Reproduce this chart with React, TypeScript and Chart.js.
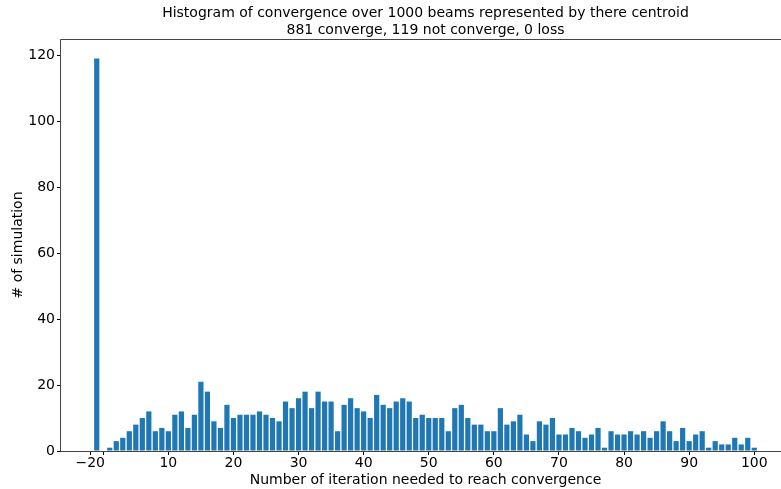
import React, { useEffect, useRef } from "react";
import { Chart, registerables } from "chart.js";

Chart.register(...registerables);

// ---- data ----
const notConvergedBin = -1;
const notConvergedCount = 119;

const iterationBins = [
  1, 2, 3, 4, 5, 6, 7, 8, 9, 10,
  11, 12, 13, 14, 15, 16, 17, 18, 19, 20,
  21, 22, 23, 24, 25, 26, 27, 28, 29, 30,
  31, 32, 33, 34, 35, 36, 37, 38, 39, 40,
  41, 42, 43, 44, 45, 46, 47, 48, 49, 50,
  51, 52, 53, 54, 55, 56, 57, 58, 59, 60,
  61, 62, 63, 64, 65, 66, 67, 68, 69, 70,
  71, 72, 73, 74, 75, 76, 77, 78, 79, 80,
  81, 82, 83, 84, 85, 86, 87, 88, 89, 90,
  91, 92, 93, 94, 95, 96, 97, 98, 99, 100,
];

const simulationCounts = [
  1, 3, 4, 6, 8, 10, 12, 6, 7, 6,
  11, 12, 7, 11, 21, 18, 9, 7, 14, 10,
  11, 11, 11, 12, 11, 10, 9, 15, 13, 16,
  18, 13, 18, 15, 15, 6, 14, 16, 13, 12,
  10, 17, 14, 13, 15, 16, 15, 10, 11, 10,
  10, 10, 6, 13, 14, 10, 8, 8, 6, 6,
  13, 8, 9, 11, 5, 3, 9, 8, 10, 5,
  5, 7, 6, 4, 5, 7, 1, 6, 5, 5,
  6, 5, 6, 4, 6, 9, 6, 3, 7, 3,
  5, 6, 1, 3, 2, 2, 4, 2, 4, 1,
];

const xTickValues = [-2, 0, 10, 20, 30, 40, 50, 60, 70, 80, 90, 100];
const xTickLabels = ["\u221220", "", "10", "20", "30", "40", "50", "60", "70", "80", "90", "100"];
const yTickValues = [0, 20, 40, 60, 80, 100, 120];
const yTickLabels = ["0", "20", "40", "60", "80", "100", "120"];

const titleLines = [
  "Histogram of convergence over 1000 beams represented by there centroid",
  "881 converge, 119 not converge, 0 loss",
];
const xAxisLabel = "Number of iteration needed to reach convergence";
const yAxisLabel = "# of simulation";

const X_MIN = -6.49;
const X_MAX = 105.49;
const Y_MAX = 124.95;

const FONT = { family: "'DejaVu Sans', sans-serif", size: 14, weight: "normal" as const, lineHeight: 1.2 };

const framePlugin = {
  id: "frame",
  afterDraw(chart: any) {
    const { ctx, chartArea } = chart;
    const l = Math.round(chartArea.left) - 0.5;
    const t = Math.round(chartArea.top) + 0.5;
    const b = Math.round(chartArea.bottom) + 0.5;
    const r = Math.round(chartArea.right) - 0.5;
    ctx.save();
    ctx.strokeStyle = "#444";
    ctx.lineWidth = 1;
    ctx.beginPath();
    ctx.moveTo(l, t);
    ctx.lineTo(r, t);
    ctx.lineTo(r, b);
    ctx.lineTo(l, b);
    ctx.closePath();
    ctx.stroke();
    ctx.restore();
  },
};

export default function App() {
  const canvasRef = useRef<HTMLCanvasElement | null>(null);

  useEffect(() => {
    document.body.style.margin = "0";
    const canvas = canvasRef.current;
    if (!canvas) return;

    const points = [{ x: notConvergedBin, y: notConvergedCount }].concat(
      iterationBins.map((b, i) => ({ x: b, y: simulationCounts[i] }))
    );

    const chart = new Chart(canvas, {
      type: "bar",
      data: {
        datasets: [
          {
            data: points as any,
            backgroundColor: "#1f77b4",
            borderWidth: 0,
            barPercentage: 0.8,
            categoryPercentage: 1.0,
          },
        ],
      },
      options: {
        animation: false,
        responsive: false,
        maintainAspectRatio: false,
        devicePixelRatio: 1,
        layout: { padding: 0 },
        plugins: {
          legend: { display: false },
          tooltip: { enabled: false },
          title: {
            display: true,
            fullSize: false,
            text: titleLines,
            font: FONT,
            color: "#000",
            padding: { top: 5, bottom: 0.4 },
          },
        },
        scales: {
          x: {
            type: "linear",
            min: X_MIN,
            max: X_MAX,
            offset: false,
            afterBuildTicks: (s: any) => {
              s.ticks = xTickValues.map((v) => ({ value: v }));
            },
            afterFit: (s: any) => {
              s.height = 38;
            },
            ticks: {
              autoSkip: false,
              maxRotation: 0,
              minRotation: 0,
              padding: 0,
              color: "#000",
              font: FONT,
              callback: (v: any) => {
                const i = xTickValues.indexOf(Number(v));
                return i >= 0 ? xTickLabels[i] : "";
              },
            },
            grid: {
              display: true,
              offset: false,
              drawOnChartArea: false,
              drawTicks: true,
              tickLength: 4,
              tickColor: "#000",
              tickWidth: 1,
            },
            border: { display: false },
            title: {
              display: true,
              text: xAxisLabel,
              color: "#000",
              font: FONT,
              padding: { top: 0, bottom: 0.5 },
            },
          },
          y: {
            type: "linear",
            min: 0,
            max: Y_MAX,
            afterBuildTicks: (s: any) => {
              s.ticks = yTickValues.map((v) => ({ value: v }));
            },
            afterFit: (s: any) => {
              s.width = 61;
            },
            ticks: {
              padding: 2,
              color: "#000",
              font: FONT,
              callback: (v: any) => {
                const i = yTickValues.indexOf(Number(v));
                return i >= 0 ? yTickLabels[i] : "";
              },
            },
            grid: {
              display: true,
              offset: false,
              drawOnChartArea: false,
              drawTicks: true,
              tickLength: 4,
              tickColor: "#000",
              tickWidth: 1,
            },
            border: { display: false },
            title: {
              display: true,
              text: yAxisLabel,
              color: "#000",
              font: FONT,
              padding: { top: 10, bottom: 0 },
            },
          },
        },
      },
      plugins: [framePlugin],
    });

    return () => {
      chart.destroy();
    };
  }, []);

  return (
    <div
      style={{
        position: "fixed",
        left: 0,
        top: 0,
        width: 781,
        height: 489,
        overflow: "hidden",
        background: "#fff",
      }}
    >
      <canvas ref={canvasRef} width={790} height={489} style={{ display: "block" }} />
    </div>
  );
}
